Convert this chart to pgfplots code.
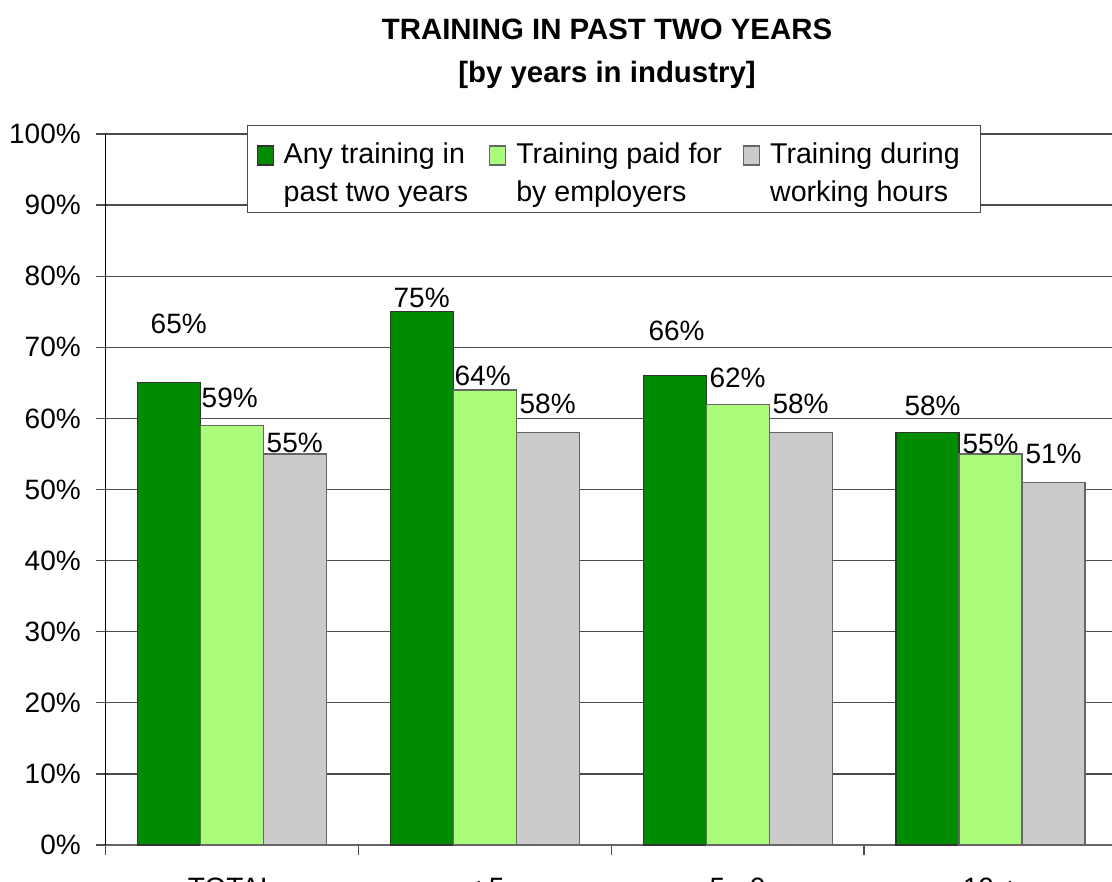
\documentclass[border=0pt]{standalone}
\usepackage{pgfplots}
\pgfplotsset{compat=1.18}
\usepackage{pgfplotstable}
\usepackage{fontspec}
\setmainfont{Liberation Sans}
\definecolor{dgreen}{RGB}{0,140,0}
\definecolor{lgreen}{RGB}{170,252,122}
\definecolor{lgray}{RGB}{203,203,203}

\pgfplotstableread{
x y dx dy
0 65 5 29.5
1 75 0 7
2 66 1 22.5
3 58 2.5 13.5
}\seriesA
\pgfplotstableread{
x y dx dy
0 59 -1 14
1 64 -1 7
2 62 0 13
3 55 0 5
}\seriesB
\pgfplotstableread{
x y dx dy
0 55 0 5.5
1 58 0 14.5
2 58 0 14.5
3 51 0 14
}\seriesC

\newcommand{\topstrut}{\rule{0pt}{15pt}}
\newcommand{\botstrut}{\rule[-7pt]{0pt}{1pt}}

\begin{document}
\begin{tikzpicture}
\path[use as bounding box] (0,0) rectangle (556pt,441pt);
\clip (0,0) rectangle (556pt,441pt);
\node[font=\bfseries\fontsize{14.7}{17}\selectfont] at (303.5pt,426.5pt) {TRAINING IN PAST TWO YEARS};
\node[font=\bfseries\fontsize{14.7}{17}\selectfont] at (303.5pt,403.5pt) {[by years in industry]};
\begin{axis}[
  at={(52.65pt,18.5pt)}, anchor=south west,
  scale only axis, width=505.85pt, height=355.5pt,
  ybar=0pt, bar width=31.5pt,
  xmin=-0.5, xmax=3.5, ymin=0, ymax=100,
  axis x line*=bottom, axis y line*=left,
  x axis line style={draw=black!60, line width=1pt, -},
  y axis line style={draw=black, line width=0.6pt, -},
  tick align=outside, major tick length=4.75pt,
  tick style={draw=black!70, line width=0.6pt},
  xtick={-0.5,0.5,1.5,2.5,3.5}, xticklabels={},
  extra x ticks={0,1,2,3},
  extra x tick labels={TOTAL,{< 5},{5 - 9},{10 +}},
  extra x tick style={major tick length=0pt, grid=none, xticklabel style={yshift=-13pt}},
  ytick={0,10,...,100},
  yticklabel={\pgfmathprintnumber{\tick}\%},
  yticklabel style={xshift=-4pt},
  /pgf/number format/assume math mode=true,
  ymajorgrids, grid style={draw=black!70, line width=0.6pt},
  ticklabel style={font=\fontsize{14}{16}\selectfont},
  every axis plot/.append style={draw=black!75, line width=0.6pt},
  nodes near coords={\pgfmathprintnumber{\pgfplotspointmeta}\%},
  point meta=explicit,
  visualization depends on={\thisrow{dx}\as\dx},
  visualization depends on={\thisrow{dy}\as\dy},
  nodes near coords style={anchor=center, xshift=\dx pt, yshift=\dy pt, font=\fontsize{14}{16}\selectfont, text=black},
  legend columns=3,
  legend style={at={(axis description cs:0.140,1.0127)}, anchor=north west,
    draw=black!70, line width=0.6pt, fill=white,
    font=\fontsize{14.3}{19}\selectfont,
    inner xsep=4.5pt,
    cells={align=left, anchor=west},
    /tikz/every odd column/.style={column sep=3pt},
    /tikz/every even column/.style={column sep=8.5pt}},
  legend image code/.code={\draw[#1, line width=0.6pt] (0pt,2pt) rectangle (8pt,11.5pt);},
]
\addplot[fill=dgreen, draw=black!80] table[x=x, y=y, meta=y] {\seriesA};
\addlegendentry{\topstrut Any training in\\past two years\botstrut}
\addplot[fill=lgreen, draw=black!60] table[x=x, y=y, meta=y] {\seriesB};
\addlegendentry{\topstrut Training paid for\\by employers\botstrut}
\addplot[fill=lgray, draw=black!60] table[x=x, y=y, meta=y] {\seriesC};
\addlegendentry{\topstrut Training during\rule{4pt}{0pt}\\working hours\botstrut}
\end{axis}
\end{tikzpicture}
\end{document}
